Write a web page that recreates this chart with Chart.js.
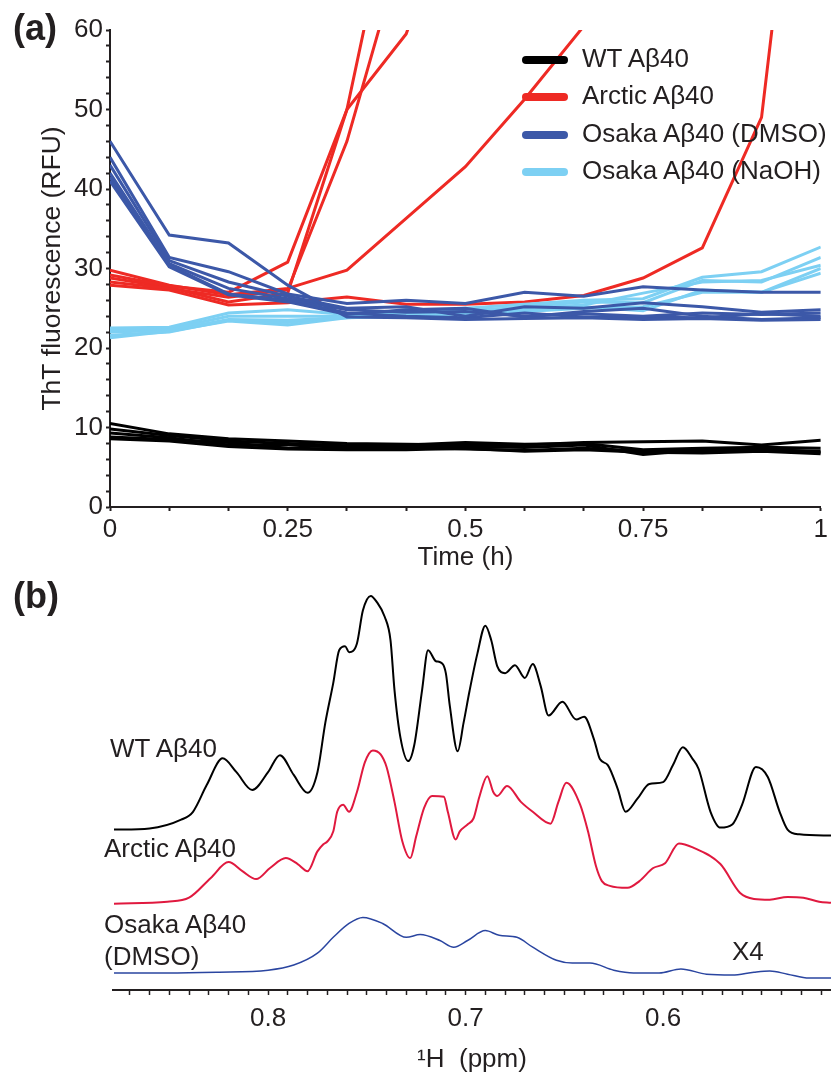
<!DOCTYPE html>
<html>
<head>
<meta charset="utf-8">
<script src="https://cdn.jsdelivr.net/npm/chart.js@4.4.1/dist/chart.umd.min.js"></script>
<style>
  body { margin: 0; background: #fff; }
  #wrap { position: relative; width: 831px; height: 1078px; overflow: hidden; font-family: 'Liberation Sans', Arial, sans-serif; color: #231f20; }
  canvas { position: absolute; left: 0; }
  .lbl { position: absolute; line-height: 1; white-space: nowrap; font-size: 26px; }
  .panel { font-weight: bold; font-size: 36px; }
  .key { position: absolute; left: 522px; width: 46px; height: 8px; border-radius: 4px; }
</style>
</head>
<body>
<div id="wrap">
  <canvas id="chartA" width="831" height="575" style="top:0"></canvas>
  <canvas id="chartB" width="831" height="503" style="top:575px"></canvas>

  <div class="lbl panel" style="left:13px; top:10px">(a)</div>
  <div class="lbl panel" style="left:13px; top:578px">(b)</div>

  <div class="key" style="top:56px; background:#000"></div>
  <div class="key" style="top:93px; background:#ee2a24"></div>
  <div class="key" style="top:131px; background:#3c58a8"></div>
  <div class="key" style="top:168px; background:#7dd0f3"></div>
  <div class="lbl" style="left:582px; top:45px">WT Aβ40</div>
  <div class="lbl" style="left:582px; top:82px">Arctic Aβ40</div>
  <div class="lbl" style="left:582px; top:120px">Osaka Aβ40 (DMSO)</div>
  <div class="lbl" style="left:582px; top:157px">Osaka Aβ40 (NaOH)</div>

  <div class="lbl" style="left:110px; top:735px">WT Aβ40</div>
  <div class="lbl" style="left:104px; top:835px">Arctic Aβ40</div>
  <div class="lbl" style="left:104px; top:911px">Osaka Aβ40</div>
  <div class="lbl" style="left:104px; top:943px">(DMSO)</div>
  <div class="lbl" style="left:732px; top:938px">X4</div>
</div>

<script>
// ---- panel (a): ThT kinetics, one point every 5 min ----
const timeMin = [0, 5, 10, 15, 20, 25, 30, 35, 40, 45, 50, 55, 60];
const timeTickMin = [0, 15, 30, 45, 60];
const timeTickLabels = ['0', '0.25', '0.5', '0.75', '1'];

const wt1 = [10.5, 9.2, 8.6, 8.3, 8.0, 7.9, 7.8, 7.8, 8.1, 8.2, 8.3, 7.8, 8.4];
const wt2 = [9.8, 9.0, 8.3, 8.0, 7.7, 7.8, 8.1, 7.9, 8.0, 7.2, 7.4, 7.5, 7.4];
const wt3 = [9.3, 8.7, 7.8, 7.8, 7.5, 7.6, 7.6, 7.5, 7.8, 6.6, 7.2, 7.2, 7.0];
const wt4 = [8.8, 8.5, 8.1, 7.4, 7.3, 7.4, 7.3, 7.1, 7.4, 7.0, 7.0, 7.3, 6.9];
const wt5 = [8.6, 8.3, 7.6, 7.3, 7.2, 7.2, 7.4, 7.0, 7.2, 6.9, 6.8, 7.0, 6.7];

const arctic1 = [29.2, 27.8, 27.0, 30.8, 50.0, 85.0];
const arctic2 = [28.3, 27.5, 26.4, 27.3, 46.0, 72.0];
const arctic3 = [28.8, 27.6, 25.8, 26.9, 50.0, 59.5, 80.0];
const arctic4 = [29.8, 27.9, 26.7, 27.5, 29.8, 36.3, 42.8, 51.3, 60.5];
const arctic5 = [27.9, 27.3, 25.4, 25.7, 26.4, 25.5, 25.5, 25.8, 26.6, 28.8, 32.6, 49.0, 112.0];

const dmso1 = [46.0, 34.2, 33.2, 27.9, 23.9, 23.8, 23.6, 23.7, 23.8, 23.6, 23.7, 23.5, 23.6];
const dmso2 = [44.0, 31.4, 29.6, 26.8, 25.6, 26.0, 25.6, 27.0, 26.5, 27.7, 27.3, 27.0, 27.0];
const dmso3 = [43.0, 31.0, 28.3, 26.5, 25.0, 25.2, 24.0, 25.2, 25.0, 25.7, 25.2, 24.5, 24.8];
const dmso4 = [42.0, 30.6, 27.5, 26.2, 24.8, 24.5, 24.6, 24.0, 24.3, 24.0, 24.4, 24.2, 24.4];
const dmso5 = [41.5, 30.4, 26.8, 26.0, 24.4, 24.0, 23.8, 24.4, 23.9, 23.9, 23.8, 24.3, 24.0];
const dmso6 = [41.0, 30.2, 26.7, 25.8, 24.2, 24.8, 25.0, 23.9, 24.6, 25.0, 24.0, 23.6, 23.8];

const naoh1 = [22.5, 22.6, 24.4, 24.8, 24.2, 24.5, 25.0, 25.5, 26.0, 26.2, 28.9, 29.6, 32.7];
const naoh2 = [22.3, 22.4, 24.0, 24.0, 24.0, 24.8, 24.6, 25.2, 25.8, 25.7, 28.5, 28.3, 31.4];
const naoh3 = [22.0, 22.2, 23.6, 23.5, 23.8, 24.2, 24.8, 25.0, 25.4, 26.9, 28.3, 28.5, 30.4];
const naoh4 = [21.6, 22.0, 23.5, 23.2, 24.0, 24.4, 24.5, 24.8, 25.2, 24.7, 27.3, 27.0, 29.4];
const naoh5 = [21.3, 22.1, 23.4, 22.9, 23.8, 24.0, 24.3, 24.6, 25.0, 25.2, 27.0, 27.0, 30.0];

// ---- panel (b): 1H spectra, [ppm, intensity] ----
const wtSpec = [[0.878,40.5],[0.860,40.8],[0.844,43],[0.838,45],[0.831,51.8],[0.823,58.5],[0.816,55],[0.808,50.5],[0.800,55],[0.794,59.3],[0.787,54.3],[0.780,49.8],[0.775,55],[0.771,67.5],[0.767,77.5],[0.764,85.8],[0.761,86.8],[0.759,85.3],[0.755,87.5],[0.752,95.8],[0.748,99.5],[0.745,98],[0.741,94.3],[0.738,88.3],[0.736,75.8],[0.733,63.8],[0.729,57.8],[0.726,61.8],[0.722,75.8],[0.719,85.8],[0.715,83],[0.713,82.8],[0.710,80],[0.708,71.8],[0.704,60.3],[0.701,67.5],[0.698,75.5],[0.694,85],[0.690,92],[0.687,88.3],[0.684,81.8],[0.680,80],[0.675,82],[0.670,78.8],[0.666,82.3],[0.662,76.8],[0.658,69.3],[0.651,72.8],[0.644,68.3],[0.640,69],[0.635,63.3],[0.632,58.3],[0.628,56.8],[0.623,50.8],[0.619,45],[0.613,48.3],[0.607,52],[0.600,52.5],[0.595,56.8],[0.590,61.3],[0.585,58.3],[0.582,55.8],[0.576,45],[0.571,41],[0.565,41.8],[0.560,46.8],[0.553,56.3],[0.547,53.8],[0.541,45],[0.537,40.5],[0.531,39.3],[0.515,39]];
const arcticSpec = [[0.878,21.8],[0.851,22.3],[0.840,23.3],[0.829,28.3],[0.820,32.3],[0.813,30],[0.806,28],[0.799,30.8],[0.791,33.3],[0.785,31.8],[0.780,30],[0.775,35],[0.772,36.8],[0.770,37.5],[0.767,40],[0.765,45],[0.762,46.8],[0.759,45],[0.755,50],[0.751,57.5],[0.747,60.5],[0.743,59.5],[0.740,56.3],[0.736,47.5],[0.732,37.5],[0.728,33.3],[0.725,38.8],[0.721,46],[0.717,49],[0.711,48.8],[0.709,45],[0.705,38],[0.703,40],[0.699,41.8],[0.696,43.3],[0.693,48.8],[0.689,54],[0.686,50],[0.684,49],[0.679,51.5],[0.672,47.5],[0.666,45],[0.657,42],[0.653,47.5],[0.649,52.3],[0.642,46.8],[0.638,40],[0.634,31.3],[0.631,27.5],[0.627,26.3],[0.618,25.8],[0.612,27.5],[0.605,30.8],[0.599,32],[0.592,37],[0.585,36],[0.571,31.8],[0.561,24.5],[0.554,23],[0.546,22.8],[0.537,23.5],[0.529,23.3],[0.521,22.3],[0.515,22]];
const osakaSpec = [[0.878,4.3],[0.851,4.3],[0.826,4.5],[0.800,5],[0.787,6.3],[0.775,9.3],[0.767,13.3],[0.759,16.8],[0.752,18.3],[0.742,16.8],[0.730,13.3],[0.723,14],[0.713,12.5],[0.706,10.8],[0.699,12.5],[0.690,15],[0.683,13.8],[0.674,13.3],[0.666,10.8],[0.654,7.5],[0.646,6.8],[0.637,6.8],[0.625,5],[0.615,4.3],[0.602,4.3],[0.591,5.3],[0.578,4],[0.565,3.8],[0.554,4.5],[0.546,4.8],[0.537,4],[0.526,3],[0.515,3]];
const ppmTickLabels = ['0.6', '0.7', '0.8'];

const ink = '#231f20';
Chart.defaults.font.family = "'Liberation Sans', Arial, sans-serif";
Chart.defaults.color = ink;

function kinetic(values, color) {
    return {
        data: values.map((v, i) => ({ x: timeMin[i] / 60, y: v })),
        borderColor: color,
        borderWidth: 3,
        pointRadius: 0,
        tension: 0,
        fill: false
    };
}

const red = '#ee2a24', blue = '#3c58a8', sky = '#7dd0f3';
const setsA = [
    ...[dmso1, dmso2, dmso3, dmso4, dmso5, dmso6].map(d => kinetic(d, blue)),
    ...[naoh1, naoh2, naoh3, naoh4, naoh5].map(d => kinetic(d, sky)),
    ...[arctic1, arctic2, arctic3, arctic4, arctic5].map(d => kinetic(d, red)),
    ...[wt1, wt2, wt3, wt4, wt5].map(d => kinetic(d, '#000'))
];

new Chart(document.getElementById('chartA'), {
    type: 'line',
    data: { datasets: setsA },
    options: {
        animation: false,
        responsive: false,
        layout: { padding: { top: 30, right: 8, left: 0, bottom: 0 } },
        plugins: { legend: { display: false }, tooltip: { enabled: false } },
        scales: {
            x: {
                type: 'linear', min: 0, max: 1,
                afterFit: s => { s.height = 68; },
                afterBuildTicks: s => { s.ticks = timeMin.map(m => ({ value: m / 60 })); },
                ticks: {
                    autoSkip: false, maxRotation: 0, padding: 3,
                    font: { size: 26 },
                    callback: v => {
                        const k = timeTickMin.indexOf(Math.round(v * 60));
                        return k >= 0 ? timeTickLabels[k] : '';
                    }
                },
                grid: { drawOnChartArea: false, tickLength: 4, tickWidth: 2, color: ink },
                border: { color: ink, width: 2 },
                title: { display: true, text: 'Time (h)', font: { size: 26 }, padding: { top: 0, bottom: 2 } }
            },
            y: {
                min: 0, max: 60,
                afterFit: s => { s.width = 110; },
                ticks: {
                    stepSize: 2, autoSkip: false, padding: 3,
                    font: { size: 26 },
                    callback: v => (v % 10 === 0 ? String(v) : '')
                },
                grid: { drawOnChartArea: false, tickLength: 4, tickWidth: 2, color: ink },
                border: { color: ink, width: 2 },
                title: { display: true, text: 'ThT fluorescence (RFU)', font: { size: 26.5 }, padding: { top: 37, bottom: 0 } }
            }
        }
    }
});

function spectrum(points, color, width) {
    return {
        data: points.map(p => ({ x: p[0], y: p[1] })),
        borderColor: color,
        borderWidth: width,
        pointRadius: 0,
        cubicInterpolationMode: 'monotone',
        fill: false
    };
}

new Chart(document.getElementById('chartB'), {
    type: 'line',
    data: {
        datasets: [
            spectrum(wtSpec, '#000', 2),
            spectrum(arcticSpec, '#e0193f', 2),
            spectrum(osakaSpec, '#2a45a0', 1.5)
        ]
    },
    options: {
        animation: false,
        responsive: false,
        layout: { padding: { top: 15, right: 0, left: 113, bottom: 0 } },
        plugins: { legend: { display: false }, tooltip: { enabled: false } },
        scales: {
            x: {
                type: 'linear', reverse: true, min: 0.515, max: 0.8785,
                afterFit: s => { s.height = 88; },
                afterBuildTicks: s => {
                    const t = [];
                    for (let i = 52; i <= 87; i++) t.push({ value: i / 100 });
                    s.ticks = t;
                },
                ticks: {
                    autoSkip: false, maxRotation: 0, padding: 8,
                    font: { size: 26 },
                    callback: v => {
                        const s = v.toFixed(2);
                        return s.endsWith('0') && ppmTickLabels.includes(v.toFixed(1)) ? v.toFixed(1) : '';
                    }
                },
                grid: { drawOnChartArea: false, tickLength: 5, tickWidth: 1.5, color: ink },
                border: { color: ink, width: 2 },
                title: { display: true, text: '¹H  (ppm)', font: { size: 26 }, padding: { top: 0, bottom: 3 } }
            },
            y: { display: false, min: 0, max: 101 }
        }
    }
});
</script>
</body>
</html>
